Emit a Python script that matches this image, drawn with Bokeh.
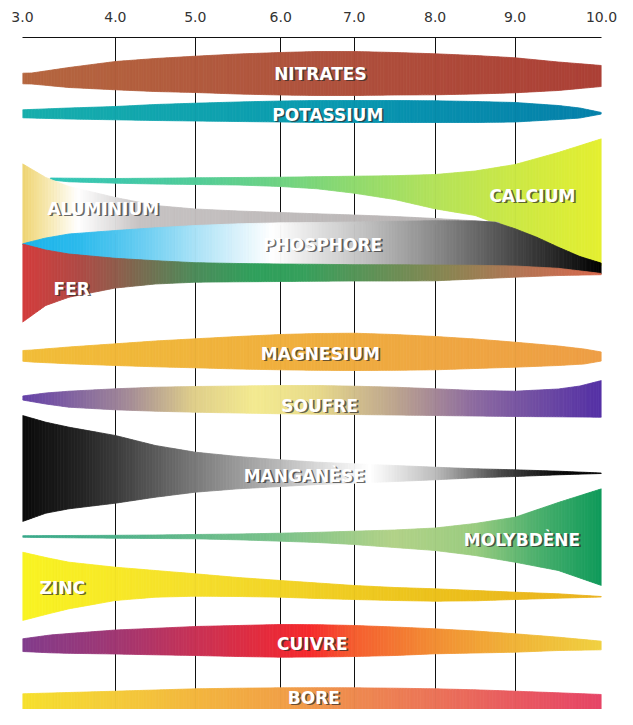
import numpy as np
from bokeh.plotting import figure
from bokeh.models import Range1d, FixedTicker
from bokeh.core.properties import value
from bokeh.embed import file_html
from bokeh.resources import INLINE

# ---------------- data ----------------
ph_ticks = [3.0, 4.0, 5.0, 6.0, 7.0, 8.0, 9.0, 10.0]
tick_labels = ["3.0", "4.0", "5.0", "6.0", "7.0", "8.0", "9.0", "10.0"]

ph_std = [3.0, 3.5, 4.0, 4.5, 5.0, 5.5, 6.0, 6.5, 7.0, 7.5, 8.0, 8.5, 9.0, 9.5, 10.0]

nitrates_ph = [3.0, 3.1, 3.5, 4.0, 4.5, 5.0, 5.5, 6.0, 6.5, 7.0, 7.5, 8.0, 8.5, 9.0, 9.5, 10.0]
nitrates_top = [72.7, 72.5, 67, 61, 58, 55.7, 53.5, 52, 51, 51, 52, 53.3, 55, 57.3, 61.5, 65]
nitrates_bot = [83.3, 83.5, 87, 89.3, 91, 92, 93.5, 94.5, 95, 95, 94.5, 94.3, 93.5, 92.3, 90, 86]

potassium_ph = [3.0, 3.5, 4.0, 4.5, 5.0, 5.5, 6.0, 6.5, 7.0, 7.5, 8.0, 8.5, 9.0, 9.5, 9.75, 10.0]
potassium_top = [109.3, 107.5, 106, 104, 102.7, 101.5, 100.5, 100, 100, 100, 100.3, 101, 102, 105, 107.5, 112]
potassium_bot = [117.3, 118.5, 119.3, 120, 120.5, 121, 121.5, 122, 122, 122, 122, 122, 121.5, 119, 117.5, 113.5]

calcium_ph = [3.3, 3.5, 4.0, 4.5, 5.0, 5.5, 6.0, 6.5, 7.0, 7.5, 8.0, 8.5, 9.0, 9.5, 10.0]
calcium_top = [177.5, 177.7, 178, 177.7, 177.3, 177, 176.7, 176.2, 175.7, 175.2, 174, 170.5, 164, 152, 138.3]
calcium_bot = [179.5, 181.3, 182.7, 183.5, 184, 184.5, 186, 188.3, 192.7, 199, 208.3, 215, 230, 250, 265]

aluminium_ph = [3.0, 3.25, 3.5, 4.0, 4.5, 5.0, 5.5, 6.0, 6.5, 7.0, 7.5, 8.0, 8.5, 8.8]
aluminium_top = [163.3, 177, 186, 197, 205, 208.5, 210.5, 212, 213.3, 214.5, 216, 218, 220.3, 222]
aluminium_bot = [243.3, 240, 237, 233, 229, 227, 225.5, 224.5, 224, 223.5, 223.5, 223.5, 223.5, 223.5]

phosphore_ph = [3.0, 3.25, 3.5, 4.0, 4.5, 5.0, 5.5, 6.0, 6.5, 7.0, 7.5, 8.0, 8.5, 8.75, 9.0, 9.25, 9.5, 9.75, 10.0]
phosphore_top = [243.3, 237.5, 233.5, 230, 227.3, 225, 223.3, 222.3, 222, 221.5, 220.8, 220.2, 220.5, 221.7, 228.3, 236.7, 246.7, 256, 262.7]
phosphore_bot = [244, 250, 254, 258.3, 260.7, 262.7, 263.5, 264, 264.3, 264.7, 264.8, 265, 265.3, 265.6, 266, 267, 268.3, 270.5, 273.3]

fer_ph = [3.0, 3.25, 3.5, 4.0, 4.5, 5.0, 5.5, 6.0, 6.5, 7.0, 7.5, 8.0, 8.5, 9.0, 9.5, 10.0]
fer_top = [243.5, 249.5, 253.5, 257.8, 260.2, 262.2, 263, 263.5, 263.8, 264.2, 264.3, 264.5, 264.8, 265.5, 267.8, 273]
fer_bot = [321.7, 305, 296.7, 287.5, 283.5, 281.7, 281.3, 281, 280.7, 280.5, 280.5, 280.3, 278.5, 276.7, 275, 274.2]

magnesium_ph = [3.0, 3.1, 3.5, 4.0, 4.5, 5.0, 5.5, 6.0, 6.5, 7.0, 7.5, 8.0, 8.5, 9.0, 9.5, 9.8, 10.0]
magnesium_top = [350, 349.5, 346.5, 343.3, 340.5, 338.3, 336, 334, 333, 332.7, 334, 336, 338.5, 341.7, 345.5, 348.5, 351.5]
magnesium_bot = [360.7, 361.5, 363.3, 365, 366.3, 367.3, 368.5, 369.3, 369.8, 370, 369.8, 369.3, 368, 366.7, 365, 363.5, 360.5]

soufre_ph = [3.0, 3.25, 3.5, 4.0, 4.5, 5.0, 5.5, 6.0, 6.5, 7.0, 7.5, 8.0, 8.5, 9.0, 9.5, 9.75, 10.0]
soufre_top = [395.5, 392.5, 390.7, 388.3, 386.7, 386, 385.5, 385, 385, 385.7, 386.7, 388.3, 390, 390.7, 388.5, 385.5, 380]
soufre_bot = [399.5, 403.5, 406.7, 409.3, 410.7, 411.7, 412.5, 413.3, 413.7, 414, 414.5, 415, 415.5, 416, 416.3, 416.5, 416.7]

manganese_ph = [3.0, 3.25, 3.5, 4.0, 4.5, 5.0, 5.5, 6.0, 6.5, 7.0, 7.5, 8.0, 8.5, 9.0, 9.5, 10.0]
manganese_top = [415, 421.7, 426.7, 435, 445, 451.7, 456, 459.3, 461.7, 463.3, 465, 466.7, 468.3, 469.3, 470.7, 472.5]
manganese_bot = [521, 512.7, 508.3, 502.7, 496.7, 491.7, 488.3, 486, 484, 482.7, 481, 479.3, 477.3, 476, 474.3, 473]

molybdene_ph = ph_std
molybdene_top = [535.2, 535, 534.8, 534.5, 534, 533.5, 532.7, 531.8, 530.7, 529.5, 527.5, 523, 516.7, 502, 488.3]
molybdene_bot = [536.8, 537.3, 537.7, 538, 538.3, 539.3, 540.7, 542, 544, 547, 550, 555, 561.7, 570, 585]

zinc_ph = [3.0, 3.25, 3.5, 4.0, 4.5, 5.0, 5.5, 6.0, 6.5, 7.0, 7.5, 8.0, 8.5, 9.0, 9.5, 10.0]
zinc_top = [551.7, 557, 561.7, 566.7, 570, 573.3, 577, 580, 582.5, 585, 587, 588.3, 590, 591.7, 593.3, 596]
zinc_bot = [620, 614, 608.3, 600, 596.7, 595.7, 596, 596.7, 598, 599, 600, 600.7, 600.3, 599, 597.7, 596.5]

cuivre_ph = [3.0, 3.3, 3.5, 4.0, 4.5, 5.0, 5.5, 6.0, 6.5, 7.0, 7.5, 8.0, 8.5, 9.0, 9.5, 10.0]
cuivre_top = [638.3, 634.5, 633, 629.5, 627.8, 626, 625, 624, 624.2, 625, 626.5, 628.3, 630.5, 633.3, 636.7, 640.7]
cuivre_bot = [651, 652.3, 652.8, 653.5, 654.3, 655, 656, 656.7, 656.5, 656, 655, 653.3, 652.5, 651.7, 650, 649.3]

bore_ph = ph_std
bore_top = [693.3, 692, 690.7, 689.5, 688.3, 687.7, 687.3, 687.2, 687.3, 687.7, 688.3, 689.3, 690.7, 692.3, 694]
bore_bot = [711.7, 714.5, 716.7, 718.5, 720, 722, 723.5, 724, 724, 723.5, 722.5, 721, 719.5, 718, 716.7]

names = ["NITRATES", "POTASSIUM", "CALCIUM", "ALUMINIUM", "PHOSPHORE", "FER", "MAGNESIUM",
         "SOUFRE", "MANGANÈSE", "MOLYBDÈNE", "ZINC", "CUIVRE", "BORE"]
label_ph = [6.54, 6.64, 9.2, 3.87, 6.57, 3.53, 6.54, 6.53, 6.32, 9.08, 3.43, 6.43, 6.45]
label_y = [73, 114, 195, 208, 244, 288, 353, 405, 475, 539, 587, 643, 697]

# ---------------- styles (gradient stops) ----------------
grad = {
    "NITRATES": ([3.0, 6.5, 10.0], ["#B5663F", "#AF523D", "#AC4036"]),
    "POTASSIUM": ([3.0, 6.5, 10.0], ["#17AEAC", "#0A9AB0", "#0580AA"]),
    "CALCIUM": ([3.3, 5.0, 6.5, 8.0, 10.0], ["#30C4B8", "#52CC98", "#7ED678", "#B4E25A", "#E4EF30"]),
    "ALUMINIUM": ([3.0, 3.3, 3.6, 4.3, 10.0], ["#EFD470", "#F7EAB6", "#FFFFFF", "#C6C2C2", "#B2AEAE"]),
    "PHOSPHORE": ([3.0, 3.6, 4.4, 5.2, 5.9, 6.4, 7.2, 8.0, 8.8, 9.5, 10.0],
                  ["#1AB4EA", "#2CBAEC", "#6FCFF2", "#BDE8F8", "#FFFFFF", "#E5E5E5", "#BDBDBD",
                   "#8A8A8A", "#555555", "#252525", "#000000"]),
    "FER": ([3.0, 3.6, 4.3, 5.0, 5.7, 6.3, 7.2, 8.2, 9.0, 10.0],
            ["#D43C3C", "#B04A45", "#7A6A50", "#4D8C5A", "#2FA05C", "#36A05C", "#5E9257",
             "#8C8452", "#B07655", "#D8684C"]),
    "MAGNESIUM": ([3.0, 10.0], ["#F1BD38", "#EE9E45"]),
    "SOUFRE": ([3.0, 4.2, 5.0, 5.7, 6.5, 7.5, 8.5, 10.0],
               ["#6440A8", "#A68E96", "#E0CF8A", "#F3EA90", "#E8DA8A", "#BDA58E", "#8C6AA0", "#5430A5"]),
    "MANGANÈSE": ([3.0, 3.6, 4.5, 5.5, 6.5, 7.2, 8.0, 8.8, 9.5, 10.0],
                  ["#0A0A0A", "#222222", "#5A5A5A", "#9A9A9A", "#D8D8D8", "#FFFFFF", "#BDBDBD",
                   "#4A4A4A", "#0A0A0A", "#000000"]),
    "MOLYBDÈNE": ([3.0, 6.0, 7.5, 8.5, 9.3, 10.0],
                  ["#38A98A", "#7CC28A", "#B2D288", "#9ACC80", "#48AE6C", "#0E9A5A"]),
    "ZINC": ([3.0, 5.0, 8.0, 10.0], ["#F9F322", "#F5DE2C", "#ECC11C", "#EAB21E"]),
    "CUIVRE": ([3.0, 4.0, 5.0, 6.0, 6.4, 7.0, 8.0, 9.0, 10.0],
               ["#823C8C", "#A03773", "#C83255", "#EB2A37", "#F52A2C", "#F55E30", "#F28E34", "#F0B438", "#F0D040"]),
    "BORE": ([3.0, 4.0, 5.0, 6.5, 8.0, 9.0, 10.0],
             ["#F6E02E", "#F4CB3A", "#F3B63E", "#F0964B", "#EB7358", "#E85A60", "#E64466"]),
}

# display position of each pH tick (the reference scale is not evenly spaced)
tick_pos = [22, 115.5, 196, 282, 356, 437.5, 518, 605]


def to_x(ph):
    return np.interp(ph, ph_ticks, tick_pos)


def hex_rgb(h):
    h = h.lstrip("#")
    return np.array([int(h[i:i + 2], 16) for i in (0, 2, 4)], dtype=float)


def color_at(name, ph):
    stops, cols = grad[name]
    rgb = np.array([hex_rgb(c) for c in cols])
    r = np.interp(ph, stops, rgb[:, 0])
    g = np.interp(ph, stops, rgb[:, 1])
    b = np.interp(ph, stops, rgb[:, 2])
    return "#%02x%02x%02x" % (int(round(r)), int(round(g)), int(round(b)))


bands = [
    ("NITRATES", nitrates_ph, nitrates_top, nitrates_bot),
    ("POTASSIUM", potassium_ph, potassium_top, potassium_bot),
    ("CALCIUM", calcium_ph, calcium_top, calcium_bot),
    ("ALUMINIUM", aluminium_ph, aluminium_top, aluminium_bot),
    ("PHOSPHORE", phosphore_ph, phosphore_top, phosphore_bot),
    ("FER", fer_ph, fer_top, fer_bot),
    ("MAGNESIUM", magnesium_ph, magnesium_top, magnesium_bot),
    ("SOUFRE", soufre_ph, soufre_top, soufre_bot),
    ("MANGANÈSE", manganese_ph, manganese_top, manganese_bot),
    ("MOLYBDÈNE", molybdene_ph, molybdene_top, molybdene_bot),
    ("ZINC", zinc_ph, zinc_top, zinc_bot),
    ("CUIVRE", cuivre_ph, cuivre_top, cuivre_bot),
    ("BORE", bore_ph, bore_top, bore_bot),
]

# ---------------- figure ----------------
p = figure(width=617, height=709,
           x_range=Range1d(tick_pos[0], tick_pos[-1]), y_range=Range1d(709, 37),
           x_axis_location="above", y_axis_location=None,
           output_backend="svg", toolbar_location=None,
           min_border_left=22, min_border_right=16, min_border_top=37, min_border_bottom=0)
p.outline_line_color = None
p.background_fill_color = "white"
p.border_fill_color = "white"

ticker = FixedTicker(ticks=tick_pos)
ax = p.xaxis[0]
ax.ticker = ticker
ax.major_label_overrides = {float(t): l for t, l in zip(tick_pos, tick_labels)}
ax.axis_line_color = "#111111"
ax.axis_line_width = 1
ax.major_tick_line_color = None
ax.minor_tick_line_color = None
ax.major_tick_out = 0
ax.major_tick_in = 0
ax.major_label_standoff = 16
ax.major_label_text_font = "DejaVu Sans"
ax.major_label_text_font_size = "14px"
ax.major_label_text_color = "#333333"

p.xgrid.ticker = ticker
p.xgrid.grid_line_color = "#111111"
p.xgrid.grid_line_width = 1
p.xgrid.grid_line_alpha = 1.0
p.ygrid.visible = False

# gradient bands: each polygon segment is painted in thin vertical slices
for name, phs, tops, bots in bands:
    xs, ys, cols = [], [], []
    for i in range(len(phs) - 1):
        x0, x1 = to_x(phs[i]), to_x(phs[i + 1])
        n = max(1, int(np.ceil((x1 - x0) / 3.0)))
        for k in range(n):
            f0, f1 = k / n, (k + 1) / n
            xa, xb = x0 + (x1 - x0) * f0, x0 + (x1 - x0) * f1
            ta = tops[i] + (tops[i + 1] - tops[i]) * f0
            tb = tops[i] + (tops[i + 1] - tops[i]) * f1
            ba = bots[i] + (bots[i + 1] - bots[i]) * f0
            bb = bots[i] + (bots[i + 1] - bots[i]) * f1
            xs.append([xa, xb, xb, xa])
            ys.append([ta, tb, bb, ba])
            phm = phs[i] + (phs[i + 1] - phs[i]) * (f0 + f1) / 2
            cols.append(color_at(name, phm))
    p.patches(xs=xs, ys=ys, fill_color=cols, line_color=cols, line_width=0.8)

lx = [float(to_x(v)) for v in label_ph]
p.text(x=lx, y=label_y, text=names, x_offset=1.8, y_offset=1.8,
       text_font=value("DejaVu Sans"), text_font_style="bold", text_font_size="17px",
       text_color="#2a2a2a", text_alpha=0.7, text_align="center", text_baseline="middle")
p.text(x=lx, y=label_y, text=names,
       text_font=value("DejaVu Sans"), text_font_style="bold", text_font_size="17px",
       text_color="white", text_align="center", text_baseline="middle")

open("out.html", "w").write(file_html(p, INLINE))
